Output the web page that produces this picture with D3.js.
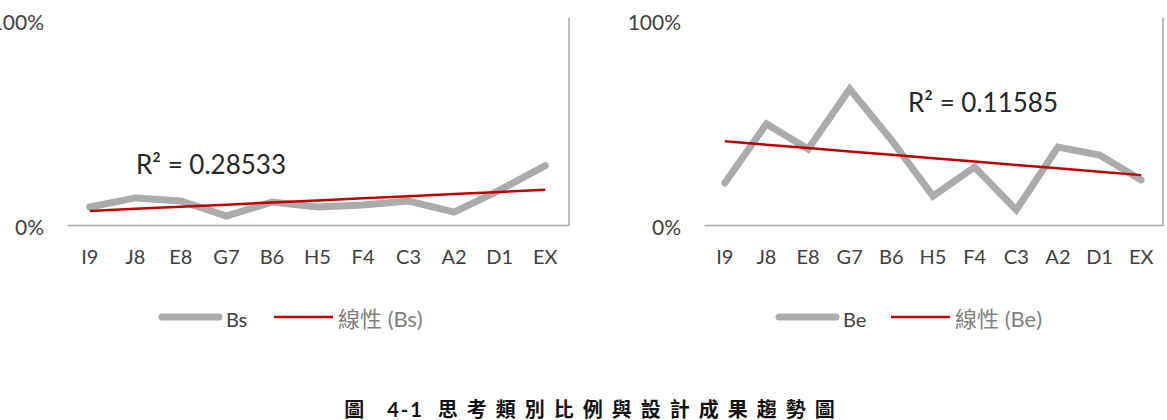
<!DOCTYPE html>
<html>
<head>
<meta charset="utf-8">
<script src="https://cdn.jsdelivr.net/npm/d3@7"></script>
<style>
  body { margin: 0; background: #fff; }
  svg { display: block; }
  text { font-family: Lato, "Noto Sans CJK TC", sans-serif; }
</style>
</head>
<body>
<div class="chart"></div>
<script>
var categories = ["I9", "J8", "E8", "G7", "B6", "H5", "F4", "C3", "A2", "D1", "EX"];
var bsValues = [0.088, 0.132, 0.117, 0.044, 0.112, 0.088, 0.098, 0.117, 0.063, 0.17, 0.29];
var beValues = [0.205, 0.493, 0.371, 0.663, 0.415, 0.141, 0.283, 0.073, 0.38, 0.341, 0.22];
var yTicks = [0, 1];
var seriesNames = ["Bs", "Be"];
var r2Labels = ["R\u00b2 = 0.28533", "R\u00b2 = 0.11585"];
var captionParts = ["圖", "4-1", "思考類別比例與設計成果趨勢圖"];

var w = 1167, h = 420;

var svg = d3.select(".chart")
  .append("svg")
  .attr("width", w)
  .attr("height", h);

// linear least squares, x = 1..n like Excel does
function trend(values) {
  var n = values.length;
  var mx = (n + 1) / 2;
  var my = d3.mean(values);
  var sxy = 0, sxx = 0;
  values.forEach(function(v, i) {
    sxy += (i + 1 - mx) * (v - my);
    sxx += (i + 1 - mx) * (i + 1 - mx);
  });
  var slope = sxy / sxx;
  return values.map(function(v, i) { return my + slope * (i + 1 - mx); });
}

var panels = [
  { name: seriesNames[0], values: bsValues, r2: r2Labels[0], x0: 67, x1: 568,
    r2x: 136, r2y: 174, legX: 159 },
  { name: seriesNames[1], values: beValues, r2: r2Labels[1], x0: 704, x1: 1162,
    r2x: 908, r2y: 112, legX: 776 }
];

var yTop = 20, yBottom = 225;

panels.forEach(function(p) {
  var g = svg.append("g");

  var x = d3.scaleBand().domain(categories).range([p.x0, p.x1]);
  var y = d3.scaleLinear().domain([0, 1]).range([yBottom, yTop]);
  var cx = function(d, i) { return x(categories[i]) + x.bandwidth() / 2; };

  // y labels
  var ya = g.append("g")
    .attr("transform", "translate(" + p.x0 + ",3)")
    .call(d3.axisLeft(y).tickValues(yTicks).tickFormat(d3.format(".0%")).tickSize(0).tickPadding(23));
  ya.select(".domain").remove();
  ya.selectAll("text").attr("font-size", 21).attr("fill", "#404040").attr("font-family", "Lato, sans-serif");

  // x axis
  var xa = g.append("g")
    .attr("transform", "translate(0," + yBottom + ")")
    .call(d3.axisBottom(x).tickSize(0).tickSizeOuter(0).tickPadding(25));
  xa.select(".domain").attr("stroke", "#a6a6a6").attr("stroke-width", 1.5);
  xa.selectAll("text").attr("font-size", 20).attr("fill", "#404040").attr("font-family", "Lato, sans-serif");

  // right border
  g.append("line")
    .attr("x1", p.x1 + 1).attr("x2", p.x1 + 1)
    .attr("y1", yTop - 2).attr("y2", yBottom + 1)
    .attr("stroke", "#a6a6a6").attr("stroke-width", 1.5);

  var line = d3.line().x(cx).y(function(d) { return y(d); });

  g.append("path")
    .datum(p.values)
    .attr("d", line)
    .attr("fill", "none")
    .attr("stroke", "#ababab")
    .attr("stroke-width", 7)
    .attr("stroke-linejoin", "miter")
    .attr("stroke-linecap", "round");

  g.append("path")
    .datum(trend(p.values))
    .attr("d", line)
    .attr("fill", "none")
    .attr("stroke", "#c00000")
    .attr("stroke-width", 2.5);

  g.append("text")
    .attr("x", p.r2x).attr("y", p.r2y)
    .attr("font-size", 26)
    .attr("fill", "#262626")
    .text(p.r2);

  // legend
  var ly = 317;
  g.append("line")
    .attr("x1", p.legX + 3).attr("x2", p.legX + 60)
    .attr("y1", ly).attr("y2", ly)
    .attr("stroke", "#ababab").attr("stroke-width", 7).attr("stroke-linecap", "round");
  g.append("text")
    .attr("x", p.legX + 67).attr("y", ly + 10)
    .attr("font-size", 20).attr("fill", "#404040")
    .text(p.name);
  g.append("line")
    .attr("x1", p.legX + 115).attr("x2", p.legX + 174)
    .attr("y1", ly).attr("y2", ly)
    .attr("stroke", "#c00000").attr("stroke-width", 2.5);
  g.append("text")
    .attr("x", p.legX + 179).attr("y", ly + 10)
    .attr("font-size", 22).attr("fill", "#7f7f7f")
    .text("線性 (" + p.name + ")");
});

var cap = svg.append("text")
  .attr("x", 594).attr("y", 417)
  .attr("text-anchor", "middle")
  .attr("font-size", 20)
  .attr("font-weight", "bold")
  .attr("fill", "#111")
  .attr("font-family", "'Noto Sans CJK TC', sans-serif");
cap.append("tspan").attr("letter-spacing", 9).text(captionParts[0] + " ");
cap.append("tspan").attr("letter-spacing", 2).text(captionParts[1]);
cap.append("tspan").attr("letter-spacing", 9).text(" " + captionParts[2]);
</script>
</body>
</html>
